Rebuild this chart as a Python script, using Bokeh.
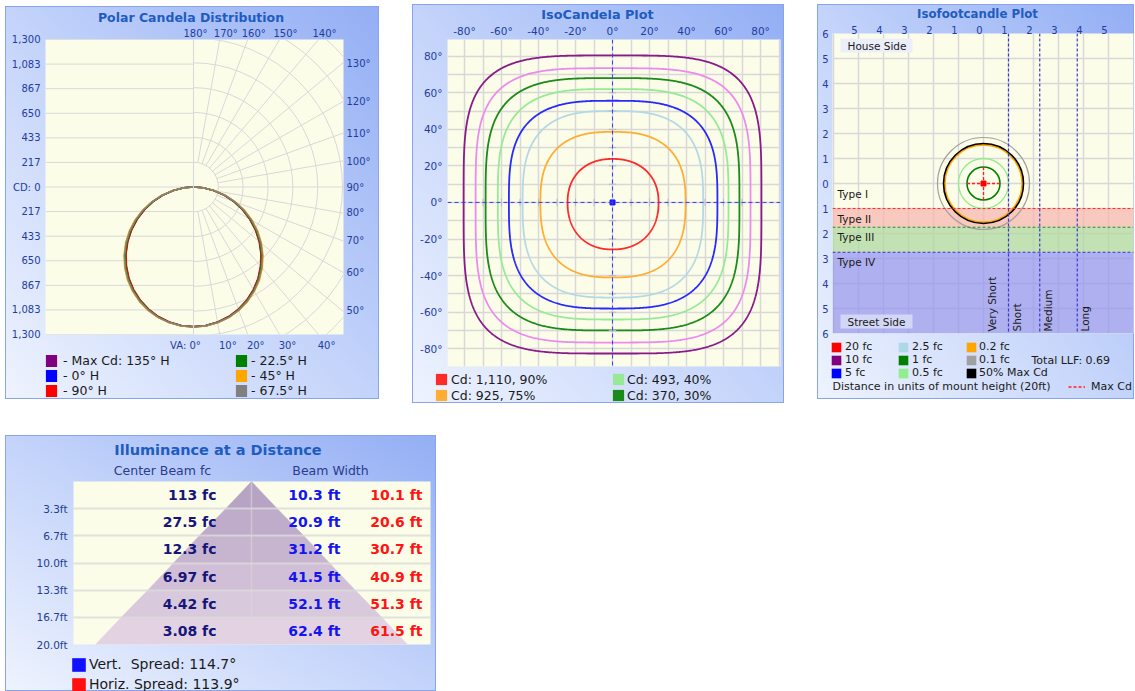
import numpy as np
from bokeh.plotting import figure
from bokeh.models import (Range1d, LinearAxis, FixedTicker, Span, Label, Legend, LegendItem,
                          Grid, Spacer)
from bokeh.layouts import row, column
from bokeh.embed import file_html
from bokeh.resources import INLINE
from bokeh.core.properties import value

FONT = "DejaVu Sans"
TITLE_COLOR = "#1f5cc0"
TICK_COLOR = "#1f3d9e"
TEXT_DARK = "#1a1a1a"
FRAME_BG = "#fcfde9"
GRID_COLOR = "#d8d8d8"

# ---------------- Polar Candela Distribution ----------------
va_deg = [0, 5, 10, 15, 20, 25, 30, 35, 40, 45, 50, 55, 60, 65, 70, 75, 80, 85, 90]
plane_names = ["Max Cd: 135° H", "0° H", "90° H", "22.5° H", "45° H", "67.5° H"]
plane_colors = ["#800080", "#0000ff", "#ff0000", "#008000", "#ffa500", "#808080"]
cd_h135 = [1233, 1229, 1214, 1190, 1155, 1111, 1058, 997, 927, 851, 768, 679, 585, 487, 387, 287, 185, 88, 0]
cd_h0 = [1231, 1226, 1210, 1184, 1148, 1102, 1047, 985, 913, 836, 752, 663, 569, 473, 375, 277, 178, 84, 0]
cd_h90 = [1230, 1225, 1208, 1182, 1145, 1099, 1044, 981, 909, 831, 747, 658, 565, 469, 372, 275, 176, 83, 0]
cd_h22 = [1232, 1227, 1211, 1186, 1150, 1105, 1051, 989, 918, 841, 757, 668, 574, 477, 378, 279, 179, 85, 0]
cd_h45 = [1233, 1229, 1215, 1192, 1158, 1115, 1063, 1003, 934, 858, 775, 687, 593, 495, 394, 292, 188, 90, 0]
cd_h67 = [1232, 1228, 1213, 1189, 1154, 1110, 1057, 996, 926, 850, 767, 678, 584, 486, 386, 286, 184, 87, 0]
plane_cd = [cd_h135, cd_h0, cd_h90, cd_h22, cd_h45, cd_h67]

cd_axis_ticks = [1300, 1083, 867, 650, 433, 217, 0, -217, -433, -650, -867, -1083, -1300]
cd_axis_labels = ["1,300", "1,083", "867", "650", "433", "217", "CD: 0",
                  "217", "433", "650", "867", "1,083", "1,300"]
cd_ring_step = 1300 / 6
va_right_deg = [50, 60, 70, 80, 90, 100, 110, 120, 130]
va_right_labels = ["50°", "60°", "70°", "80°", "90°", "100°", "110°", "120°", "130°"]
va_top_deg = [180, 170, 160, 150, 140]
va_top_labels = ["180°", "170°", "160°", "150°", "140°"]
va_bottom_deg = [0, 10, 20, 30, 40]
va_bottom_labels = ["VA: 0°", "10°", "20°", "30°", "40°"]
radial_deg = [10, 20, 30, 40, 50, 60, 70, 80, 90, 100, 110, 120, 130, 140, 150, 160, 170]

# ---------------- IsoCandela Plot ----------------
iso_axis_ticks = [-80, -60, -40, -20, 0, 20, 40, 60, 80]
iso_axis_labels = ["-80°", "-60°", "-40°", "-20°", "0°", "20°", "40°", "60°", "80°"]
iso_minor_ticks = [-90, -70, -50, -30, -10, 10, 30, 50, 70, 90]
iso_pct = [90, 75, 60, 50, 40, 30, 20, 10]
iso_cd = [1110, 925, 740, 617, 493, 370, 247, 123]
iso_colors = ["#ff2a2a", "#ffad33", "#b4d9e6", "#2828ff", "#96ea96", "#1a8a1a", "#ee8aee", "#8a1a8a"]
iso_right = [24.9, 39.5, 49.0, 56.7, 62.7, 68.6, 74.6, 80.5]
iso_top = [23.8, 38.6, 50.0, 55.6, 62.0, 68.0, 73.4, 80.4]
iso_left = [24.3, 39.0, 48.6, 56.0, 62.0, 68.6, 74.0, 80.5]
iso_bottom = [25.7, 41.0, 52.0, 58.0, 64.0, 70.0, 76.6, 82.6]
iso_squareness = [2.2, 2.6, 2.9, 3.1, 3.3, 3.5, 3.8, 4.0]
iso_cross_ticks = [-70, -60, -50, -40, -30, -20, -10, 10, 20, 30, 40, 50, 60, 70]

# ---------------- Isofootcandle Plot ----------------
fc_x_ticks = [-5, -4, -3, -2, -1, 0, 1, 2, 3, 4, 5]
fc_x_labels = ["5", "4", "3", "2", "1", "0", "1", "2", "3", "4", "5"]
fc_y_ticks = [-6, -5, -4, -3, -2, -1, 0, 1, 2, 3, 4, 5, 6]
fc_y_labels = ["6", "5", "4", "3", "2", "1", "0", "1", "2", "3", "4", "5", "6"]
type_names = ["Type I", "Type II", "Type III", "Type IV"]
type_bounds = [0.0, 1.0, 1.75, 2.75, 6.0]
type_colors = ["#ffffff", "#f7b7b0", "#b0d8a0", "#9595f2"]
type_alpha = [0.0, 0.75, 0.75, 0.75]
type_line_colors = ["#ff3030", "#2a8a2a", "#3030e0"]
lat_names = ["Very Short", "Short", "Medium", "Long"]
lat_starts = [0.0, 1.0, 2.25, 3.75]
fc_levels = ["20 fc", "10 fc", "5 fc", "2.5 fc", "1 fc", "0.5 fc", "0.2 fc", "0.1 fc", "50% Max Cd"]
fc_colors = ["#ff0000", "#800080", "#0000ff", "#add8e6", "#008000", "#90ee90", "#ffa500", "#a0a0a0", "#000000"]
fc_contour_idx = [7, 6, 8, 5, 4]          # 0.1 fc, 0.2 fc, 50% Max Cd, 0.5 fc, 1 fc
fc_contour_radius = [1.84, 1.55, 1.60, 1.00, 0.66]
fc_contour_width = [1.2, 2.0, 1.6, 1.3, 1.6]
lum_x, lum_y = [0.0], [0.0]
maxcd_half = 0.66
total_llf = 0.69
mount_height_ft = 20

# ---------------- Illuminance at a Distance ----------------
dist_ft = [3.33, 6.67, 10.0, 13.33, 16.67, 20.0]
dist_labels = ["3.3ft", "6.7ft", "10.0ft", "13.3ft", "16.7ft", "20.0ft"]
center_fc = [113, 27.5, 12.3, 6.97, 4.42, 3.08]
beam_v_ft = [10.3, 20.9, 31.2, 41.5, 52.1, 62.4]
beam_h_ft = [10.1, 20.6, 30.7, 40.9, 51.3, 61.5]
vert_spread = 114.7
horiz_spread = 113.9
cone_colors = ["#b7a4c5", "#bfaccb", "#c7b5d0", "#d0bfd6", "#d9c9dc", "#e3d3e2"]


class Geo:
    """page-pixel geometry of one plotting figure and its frame"""
    def __init__(self, fig_left, fig_top, w, h, fl, ft, fw, fh, xr, yr):
        self.fig_left, self.fig_top, self.w, self.h = fig_left, fig_top, w, h
        self.fl, self.ft, self.fw, self.fh = fl, ft, fw, fh
        self.xr, self.yr = xr, yr

    def x(self, px):
        return self.xr[0] + (px - self.fl) / self.fw * (self.xr[1] - self.xr[0])

    def y(self, py):
        return self.yr[1] + (py - self.ft) / self.fh * (self.yr[0] - self.yr[1])

    def dx(self, dpx):
        return dpx / self.fw * (self.xr[1] - self.xr[0])

    def dy(self, dpx):
        return dpx / self.fh * abs(self.yr[1] - self.yr[0])


PANEL_STYLE = {
    "background": "linear-gradient(to top right, #eef3fe 0%, #c3d3fa 50%, #93aef4 100%)",
    "outline": "1px solid #86a5ee",
    "outline-offset": "-1px",
}


def make_fig(g, x_axis_location="below", y_axis_location="left"):
    p = figure(width=g.w, height=g.h, x_range=Range1d(*g.xr), y_range=Range1d(*g.yr),
               output_backend="svg", toolbar_location=None, title_location=None,
               x_axis_location=x_axis_location, y_axis_location=y_axis_location,
               min_border_left=g.fl - g.fig_left, min_border_top=g.ft - g.fig_top,
               min_border_right=g.fig_left + g.w - (g.fl + g.fw),
               min_border_bottom=g.fig_top + g.h - (g.ft + g.fh),
               frame_align=False)
    p.border_fill_color = None
    p.background_fill_color = FRAME_BG
    p.outline_line_color = None
    return p


class TextFig:
    """a strip of a panel (title or legend area) drawn in page-pixel coordinates"""
    def __init__(self, left, top, w, h):
        self.left, self.top, self.w, self.h = left, top, w, h
        p = figure(width=w, height=h, x_range=Range1d(0, w), y_range=Range1d(h, 0),
                   output_backend="svg", toolbar_location=None, title_location=None,
                   x_axis_location=None, y_axis_location=None,
                   min_border_left=0, min_border_right=0, min_border_top=0, min_border_bottom=0,
                   frame_align=False)
        p.grid.visible = False
        p.border_fill_color = None
        p.background_fill_color = None
        p.outline_line_color = None
        self.p = p

    def label(self, px, py, text, size, color=TEXT_DARK, bold=False, align="left"):
        self.p.add_layout(Label(x=px - self.left, y=py - self.top, text=text, text_font=FONT,
                                text_font_size=size, text_color=color,
                                text_font_style="bold" if bold else "normal",
                                text_align=align, text_baseline="middle"))

    def square_proxy(self, color):
        # legend swatch renderer; its one box lies outside the visible range
        return self.p.quad(left=[-60], right=[-50], top=[-60], bottom=[-50], fill_color=color, line_color=None)

    def line_proxy(self, **kw):
        return self.p.segment(x0=[-60], y0=[-60], x1=[-50], y1=[-60], **kw)

    def legend(self, items, left_px, top_px, glyph_w, glyph_h, label_h, spacing, standoff, size):
        n = len(items)
        height = n * label_h + (n - 1) * spacing
        vx = left_px - self.left
        vy = self.h - (top_px - self.top + height)
        leg = Legend(items=items, location=(vx, vy), orientation="vertical",
                     glyph_width=glyph_w, glyph_height=glyph_h, label_height=label_h,
                     spacing=spacing, label_standoff=standoff, padding=0, margin=0,
                     border_line_color=None, background_fill_alpha=0,
                     label_text_font=FONT, label_text_font_size=size, label_text_color=TEXT_DARK)
        self.p.add_layout(leg)
        return leg


def style_axis(ax, size, color, standoff):
    ax.axis_line_color = None
    ax.major_tick_line_color = None
    ax.minor_tick_line_color = None
    ax.major_tick_in = 0
    ax.major_tick_out = 0
    ax.minor_tick_in = 0
    ax.minor_tick_out = 0
    ax.major_label_text_font = FONT
    ax.major_label_text_font_size = size
    ax.major_label_text_color = color
    ax.major_label_standoff = standoff


# =============================== Panel 1 ===============================
h1 = TextFig(5, 6, 374, 18)
h1.label(190.5, 17, "Polar Candela Distribution", "12.5px", TITLE_COLOR, True, "center")

g1 = Geo(5, 24, 374, 329, 45, 38, 298, 298, (-1291.3, 1308.7), (-1300.0, 1300.0))
p1 = make_fig(g1)
p1.xgrid.visible = False
p1.ygrid.visible = False

p1.yaxis.ticker = FixedTicker(ticks=cd_axis_ticks)
p1.yaxis.major_label_overrides = dict(zip(cd_axis_ticks, cd_axis_labels))
style_axis(p1.yaxis[0], "10px", TICK_COLOR, 5)

bottom_off_px = [-8, 8, 8, 8, 8]
b_ticks = [int(round(1300 * np.tan(np.radians(a)) + g1.dx(o))) for a, o in zip(va_bottom_deg, bottom_off_px)]
p1.xaxis.ticker = FixedTicker(ticks=b_ticks)
p1.xaxis.major_label_overrides = dict(zip(b_ticks, va_bottom_labels))
style_axis(p1.xaxis[0], "10px", TICK_COLOR, 5)

r_ticks = [int(round(-1300 * np.cos(np.radians(a)) / np.sin(np.radians(a)))) for a in va_right_deg]
ax_r = LinearAxis(ticker=FixedTicker(ticks=r_ticks), major_label_overrides=dict(zip(r_ticks, va_right_labels)))
style_axis(ax_r, "10px", TICK_COLOR, 3)
p1.add_layout(ax_r, "right")

top_off_px = [2, 6, 6, 6, 6]
t_ticks = [int(round(1300 * np.tan(np.radians(180 - a)) + g1.dx(o))) for a, o in zip(va_top_deg, top_off_px)]
ax_t = LinearAxis(ticker=FixedTicker(ticks=t_ticks), major_label_overrides=dict(zip(t_ticks, va_top_labels)))
style_axis(ax_t, "10px", TICK_COLOR, 1)
p1.add_layout(ax_t, "above")

ring_levels = [cd_ring_step * k for k in range(-6, 7)]
p1.segment(x0=[g1.xr[0]] * len(ring_levels), y0=ring_levels, x1=[0] * len(ring_levels), y1=ring_levels,
           line_color=GRID_COLOR, line_width=1)
rings = [cd_ring_step * k for k in range(1, 9)]
p1.arc(x=[0] * len(rings), y=[0] * len(rings), radius=rings, start_angle=-np.pi / 2, end_angle=np.pi / 2,
       line_color=GRID_COLOR, line_width=1)
th = np.radians(radial_deg)
r0, r1 = cd_ring_step, 3000
p1.segment(x0=r0 * np.sin(th), y0=-r0 * np.cos(th), x1=r1 * np.sin(th), y1=-r1 * np.cos(th),
           line_color=GRID_COLOR, line_width=1)
p1.add_layout(Span(location=0, dimension="height", line_color=GRID_COLOR, line_width=1))

va = np.radians(va_deg)
for cd, col in zip(plane_cd, plane_colors):
    cd = np.array(cd, dtype=float)
    xs = np.concatenate([-(cd * np.sin(va))[::-1], cd * np.sin(va)])
    ys = np.concatenate([-(cd * np.cos(va))[::-1], -cd * np.cos(va)])
    p1.line(xs, ys, line_color=col, line_width=1.5)

l1 = TextFig(5, 353, 374, 46)
prox1 = [l1.square_proxy(c) for c in plane_colors]
l1.legend([LegendItem(label="- " + plane_names[i], renderers=[prox1[i]]) for i in range(3)],
          44, 353, 14, 15, 15, 0, 5, "12.5px")
l1.legend([LegendItem(label="- " + plane_names[i], renderers=[prox1[i]]) for i in range(3, 6)],
          234, 353, 14, 15, 15, 0, 3, "12.5px")

panel1 = column(h1.p, p1, l1.p, styles=PANEL_STYLE)

# =============================== Panel 2 ===============================
h2 = TextFig(412, 4, 372, 17)
h2.label(597, 14, "IsoCandela Plot", "12.8px", TITLE_COLOR, True, "center")

g2 = Geo(412, 21, 372, 347, 447, 37, 333, 329, (-89.2, 90.8), (-89.7, 89.1))
p2 = make_fig(g2, x_axis_location="above")
for ax in (p2.xaxis[0], p2.yaxis[0]):
    ax.ticker = FixedTicker(ticks=iso_axis_ticks, minor_ticks=iso_minor_ticks)
    ax.major_label_overrides = dict(zip(iso_axis_ticks, iso_axis_labels))
style_axis(p2.xaxis[0], "10.5px", TICK_COLOR, 3)
style_axis(p2.yaxis[0], "10.5px", TICK_COLOR, 5)
for gr in (p2.xgrid[0], p2.ygrid[0]):
    gr.grid_line_color = GRID_COLOR
    gr.grid_line_width = 1.5
    gr.minor_grid_line_color = GRID_COLOR
    gr.minor_grid_line_width = 1.5

tt = np.linspace(0, 2 * np.pi, 721)
cc, ss = np.cos(tt), np.sin(tt)
for i in range(len(iso_pct) - 1, -1, -1):
    e = 2.0 / iso_squareness[i]
    ax_ = np.where(cc >= 0, iso_right[i], iso_left[i])
    by_ = np.where(ss >= 0, iso_top[i], iso_bottom[i])
    xs = ax_ * np.sign(cc) * np.abs(cc) ** e
    ys = by_ * np.sign(ss) * np.abs(ss) ** e
    p2.line(xs, ys, line_color=iso_colors[i], line_width=1.8)

p2.add_layout(Span(location=0, dimension="height", line_color="#3b3bff", line_dash="4 3", line_width=1))
p2.add_layout(Span(location=0, dimension="width", line_color="#3b3bff", line_dash="4 3", line_width=1))
nt = len(iso_cross_ticks)
p2.segment(x0=[-2.0] * nt, x1=[2.0] * nt, y0=iso_cross_ticks, y1=iso_cross_ticks, line_color="#b8b8c8", line_width=1)
p2.segment(x0=iso_cross_ticks, x1=iso_cross_ticks, y0=[-2.0] * nt, y1=[2.0] * nt, line_color="#b8b8c8", line_width=1)
p2.scatter([0], [0], marker="square", size=5, fill_color="#1a1aff", line_color="#1a1aff")

l2 = TextFig(412, 368, 372, 35)
prox2 = [l2.square_proxy(c) for c in iso_colors]
lab2 = [f"Cd: {cd:,}, {pc}%" for cd, pc in zip(iso_cd, iso_pct)]
l2.legend([LegendItem(label=lab2[i], renderers=[prox2[i]]) for i in (0, 1)], 434, 371, 14, 14, 16, 0, 3, "12.5px")
l2.legend([LegendItem(label=lab2[i], renderers=[prox2[i]]) for i in (4, 5)], 611, 371, 14, 14, 16, 0, 2, "12.5px")

panel2 = column(h2.p, p2, l2.p, styles=PANEL_STYLE)

# =============================== Panel 3 ===============================
h3 = TextFig(817, 4, 317, 16)
h3.label(977, 13, "Isofootcandle Plot", "11.8px", TITLE_COLOR, True, "center")

g3 = Geo(817, 20, 317, 320, 832, 33, 301, 300, (-6.04, 6.0), (-6.0, 6.0))
p3 = make_fig(g3, x_axis_location="above")
shift = round(g3.dx(-4), 3)
x_lab_ticks = [round(t + shift, 3) for t in fc_x_ticks]
p3.xaxis.ticker = FixedTicker(ticks=x_lab_ticks)
p3.xaxis.major_label_overrides = dict(zip(x_lab_ticks, fc_x_labels))
p3.yaxis.ticker = FixedTicker(ticks=fc_y_ticks)
p3.yaxis.major_label_overrides = dict(zip(fc_y_ticks, fc_y_labels))
style_axis(p3.xaxis[0], "10px", TICK_COLOR, 0)
style_axis(p3.yaxis[0], "10px", TICK_COLOR, 4)
p3.xgrid.ticker = FixedTicker(ticks=list(range(-6, 7)))
for gr in (p3.xgrid[0], p3.ygrid[0]):
    gr.grid_line_color = GRID_COLOR
    gr.grid_line_width = 1.5

band_top = [-b for b in type_bounds[:-1]]
band_bot = [-b for b in type_bounds[1:]]
p3.quad(left=[g3.xr[0]] * 4, right=[g3.xr[1]] * 4, top=band_top, bottom=band_bot,
        fill_color=type_colors, fill_alpha=type_alpha, line_color=None)
for b, c in zip(type_bounds[1:4], type_line_colors):
    p3.add_layout(Span(location=-b, dimension="width", line_color=c, line_dash="3 2", line_width=1.2))
for xline in lat_starts[1:]:
    p3.add_layout(Span(location=xline, dimension="height", line_color="#3a3ad0", line_dash="3 2", line_width=1.2))

p3.text(x=[g3.x(837)] * 4, y=[t - g3.dy(10) for t in band_top], text=type_names,
        text_font=value(FONT), text_font_size="10.5px", text_color=TEXT_DARK,
        text_align="left", text_baseline="middle")
p3.text(x=[s + g3.dx(8) for s in lat_starts], y=[g3.y(331)] * 4, text=lat_names, angle=np.pi / 2,
        text_font=value(FONT), text_font_size="10.5px", text_color=TEXT_DARK,
        text_align="left", text_baseline="middle")
p3.quad(left=[g3.x(840), g3.x(840)], right=[g3.x(912), g3.x(912)], top=[g3.y(38), g3.y(314)],
        bottom=[g3.y(52), g3.y(328)], fill_color=["#eceff9", "#d3d7f6"], line_color=None)
p3.text(x=[g3.x(847), g3.x(847)], y=[g3.y(45.5), g3.y(321)], text=["House Side", "Street Side"],
        text_font=value(FONT), text_font_size="10.5px", text_color=TEXT_DARK,
        text_align="left", text_baseline="middle")

nc = len(fc_contour_idx)
p3.circle(x=lum_x * nc, y=lum_y * nc, radius=fc_contour_radius, fill_color=None,
          line_color=[fc_colors[i] for i in fc_contour_idx], line_width=fc_contour_width)
mx, my = lum_x[0], lum_y[0]
p3.segment(x0=[mx - maxcd_half, mx], y0=[my, my - maxcd_half],
           x1=[mx + maxcd_half, mx], y1=[my, my + maxcd_half],
           line_color="#ff2020", line_dash="3 2", line_width=1.3)
p3.scatter(lum_x, lum_y, marker="square", size=5, fill_color="#ff0000", line_color="#ff0000")

l3 = TextFig(817, 340, 317, 59)
prox3 = [l3.square_proxy(c) for c in fc_colors]
for col_i, left in enumerate([830, 897, 965]):
    items = [LegendItem(label=fc_levels[k], renderers=[prox3[k]]) for k in range(col_i * 3, col_i * 3 + 3)]
    l3.legend(items, left, 340, 12, 12, 13, 0, 3 if col_i < 2 else 2, "11px")
maxcd_proxy = l3.line_proxy(line_color="#ff2020", line_dash="3 2", line_width=1.3)
l3.legend([LegendItem(label="Max Cd", renderers=[maxcd_proxy])], 1068, 379.5, 17, 13, 13, 0, 6, "11px")
l3.label(1031, 360, f"Total LLF: {total_llf}", "11px")
l3.label(832, 386, f"Distance in units of mount height ({mount_height_ft}ft)", "11px")

panel3 = column(h3.p, p3, l3.p, styles=PANEL_STYLE)

# =============================== Panel 4 ===============================
h4 = TextFig(5, 435, 431, 43)
h4.label(217.5, 449, "Illuminance at a Distance", "14.5px", TITLE_COLOR, True, "center")
h4.label(162, 470, "Center Beam fc", "12.5px", "#2a3c8c", False, "center")
h4.label(330, 470, "Beam Width", "12.5px", "#2a3c8c", False, "center")

g4 = Geo(5, 478, 431, 174, 73, 481, 357, 163, (-35.6, 35.8), (20.0, 0.0))
p4 = make_fig(g4, x_axis_location=None)
p4.xgrid.visible = False
p4.yaxis.ticker = FixedTicker(ticks=dist_ft)
p4.yaxis.major_label_overrides = dict(zip(dist_ft, dist_labels))
style_axis(p4.yaxis[0], "10.5px", "#23408e", 6)
p4.ygrid.grid_line_color = "#d9d9d9"
p4.ygrid.grid_line_width = 2
p4.ygrid.grid_line_alpha = 0.8
p4.ygrid.level = "overlay"
vgrid = Grid(dimension=0, ticker=FixedTicker(ticks=[0]), grid_line_color="#d9d9d9",
             grid_line_width=1.5, grid_line_alpha=0.6, level="overlay")
p4.add_layout(vgrid)

prev_d = [0.0] + dist_ft[:-1]
prev_w = [0.0] + beam_v_ft[:-1]
cone_xs = [[-w0 / 2, w0 / 2, w1 / 2, -w1 / 2] for w0, w1 in zip(prev_w, beam_v_ft)]
cone_ys = [[d0, d0, d1, d1] for d0, d1 in zip(prev_d, dist_ft)]
p4.patches(xs=cone_xs, ys=cone_ys, fill_color=cone_colors, line_color=cone_colors, line_width=0.5)

row_mid = [(d0 + d1) / 2 for d0, d1 in zip(prev_d, dist_ft)]
txt_kw = dict(text_font=value(FONT), text_font_size="14px", text_font_style="bold",
              text_align="right", text_baseline="middle")
p4.text(x=[g4.x(216)] * 6, y=row_mid, text=[f"{v:g} fc" for v in center_fc], text_color="#16167a", **txt_kw)
p4.text(x=[g4.x(340)] * 6, y=row_mid, text=[f"{v:.1f} ft" for v in beam_v_ft], text_color="#1414f0", **txt_kw)
p4.text(x=[g4.x(422)] * 6, y=row_mid, text=[f"{v:.1f} ft" for v in beam_h_ft], text_color="#ff1414", **txt_kw)

l4 = TextFig(5, 652, 431, 39)
prox4 = [l4.square_proxy("#1010ff"), l4.square_proxy("#ff1010")]
l4.legend([LegendItem(label=f"Vert.  Spread: {vert_spread}°", renderers=[prox4[0]]),
           LegendItem(label=f"Horiz. Spread: {horiz_spread}°", renderers=[prox4[1]])],
          70, 654, 17, 17, 20, 0, 2, "14px")

panel4 = column(h4.p, p4, l4.p, styles=PANEL_STYLE)

# =============================== Layout ===============================
top_row = row(column(Spacer(width=374, height=2), panel1), Spacer(width=33, height=10), panel2,
              Spacer(width=33, height=10), panel3)
root = column(top_row, Spacer(width=10, height=32), panel4,
              styles={"margin-left": "5px", "margin-top": "4px"})

open("out.html", "w").write(file_html(root, INLINE))
